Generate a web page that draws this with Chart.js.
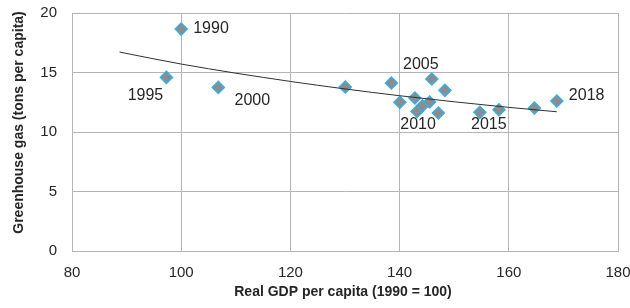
<!DOCTYPE html>
<html>
<head>
<meta charset="utf-8">
<script src="https://cdn.jsdelivr.net/npm/chart.js@4"></script>
<style>
  html, body { margin: 0; padding: 0; background: #fff; }
  #wrap { width: 630px; height: 308px; }
</style>
</head>
<body>
<div id="wrap"><canvas id="ghgChart" width="630" height="308"></canvas></div>
<script>
// real GDP per capita (1990 = 100) and greenhouse gas (tons per capita)
const gdp = [100, 97.3, 106.8, 130.05, 138.5, 140.05, 142.8, 143.2, 144.2, 145.5, 145.9, 147.1, 148.3, 154.7, 158.2, 164.7, 168.8];
const ghg = [18.65, 14.59, 13.75, 13.78, 14.12, 12.49, 12.86, 11.73, 12.21, 12.52, 14.45, 11.6, 13.5, 11.65, 11.87, 12.02, 12.6];
const yearLabels = ['1990', '1995', '2000', '', '', '', '', '2010', '', '', '2005', '', '', '2015', '', '', '2018'];

// trend line
const trendX = [88.7, 100, 120, 140, 160, 168.8];
const trendY = [16.72, 15.71, 14.25, 13.05, 12.07, 11.7];

const xTicks = [80, 100, 120, 140, 160, 180];
const yTicks = [0, 5, 10, 15, 20];

const numFont = '"Liberation Sans", Arial, sans-serif';
const titleFont = '"Liberation Sans Narrow", "Liberation Sans", Arial, sans-serif';

// where each year label sits relative to its point
const labelPos = {
  '1990': { dx: 12, dy: 0, align: 'left' },
  '1995': { dx: -21, dy: 18, align: 'center' },
  '2000': { dx: 34, dy: 13, align: 'center' },
  '2005': { dx: -11, dy: -14, align: 'center' },
  '2010': { dx: 1, dy: 13, align: 'center' },
  '2015': { dx: 9, dy: 12, align: 'center' },
  '2018': { dx: 12, dy: -5, align: 'left' }
};

const yearLabelPlugin = {
  id: 'yearLabels',
  afterDatasetsDraw(chart) {
    const ctx = chart.ctx;
    const meta = chart.getDatasetMeta(1);
    ctx.save();
    ctx.font = '16px ' + numFont;
    ctx.fillStyle = '#262626';
    ctx.textBaseline = 'middle';
    meta.data.forEach((pt, i) => {
      const lab = yearLabels[i];
      if (!lab) return;
      const p = labelPos[lab];
      ctx.textAlign = p.align;
      ctx.fillText(lab, pt.x + p.dx, pt.y + p.dy);
    });
    ctx.restore();
  }
};

const axisTitlePlugin = {
  id: 'axisTitles',
  afterDraw(chart) {
    const ctx = chart.ctx;
    const area = chart.chartArea;
    ctx.save();
    ctx.font = 'bold 14px ' + titleFont;
    ctx.fillStyle = '#262626';
    ctx.textAlign = 'center';
    ctx.textBaseline = 'middle';
    ctx.fillText('Real GDP per capita (1990 = 100)', (area.left + area.right) / 2 - 2, 292);
    ctx.translate(19, 122.5);
    ctx.rotate(-Math.PI / 2);
    ctx.fillText('Greenhouse gas (tons per capita)', 0, 0);
    ctx.restore();
  }
};

const ctx = document.getElementById('ghgChart').getContext('2d');

new Chart(ctx, {
  type: 'scatter',
  data: {
    datasets: [
      {
        type: 'line',
        data: trendX.map((x, i) => ({ x, y: trendY[i] })),
        borderColor: '#303030',
        borderWidth: 1,
        pointRadius: 0,
        cubicInterpolationMode: 'monotone',
        fill: false
      },
      {
        data: gdp.map((x, i) => ({ x, y: ghg[i] })),
        pointStyle: 'rectRot',
        pointRadius: 6,
        pointBackgroundColor: '#8c8c8c',
        pointBorderColor: '#3aaee0',
        pointBorderWidth: 1.5
      }
    ]
  },
  options: {
    responsive: false,
    animation: false,
    layout: { padding: { top: 13, right: 12, left: 0, bottom: 0 } },
    plugins: {
      legend: { display: false },
      tooltip: { enabled: false }
    },
    scales: {
      x: {
        type: 'linear',
        min: 80,
        max: 180,
        afterBuildTicks: s => { s.ticks = xTicks.map(v => ({ value: v })); },
        afterFit: s => { s.height = 57; s.paddingLeft = 0; s.paddingRight = 0; },
        grid: { color: '#b5b5b5', tickLength: 0, drawTicks: false },
        border: { color: '#b5b5b5' },
        ticks: { color: '#262626', padding: 13, font: { family: numFont, size: 15 } }
      },
      y: {
        min: 0,
        max: 20,
        afterBuildTicks: s => { s.ticks = yTicks.map(v => ({ value: v })); },
        afterFit: s => { s.width = 72; s.paddingTop = 0; s.paddingBottom = 0; },
        grid: { color: '#b5b5b5', tickLength: 0, drawTicks: false },
        border: { color: '#b5b5b5' },
        ticks: { color: '#262626', padding: 15, font: { family: numFont, size: 15 } }
      }
    }
  },
  plugins: [yearLabelPlugin, axisTitlePlugin]
});
</script>
</body>
</html>
